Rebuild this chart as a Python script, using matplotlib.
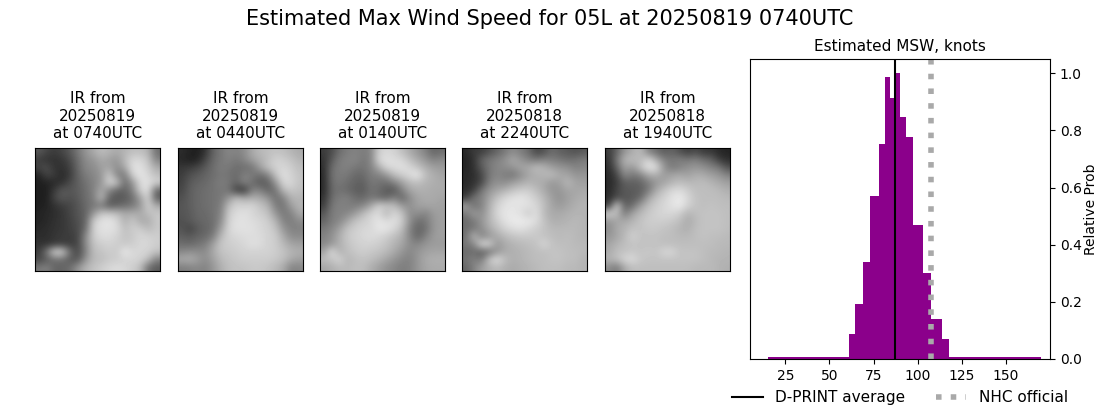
import numpy as np
import matplotlib
matplotlib.use('Agg')
import matplotlib.pyplot as plt

# histogram of estimated wind speed, uneven bins
bin_edges = [15.4, 61.2, 64.6, 69.1, 73.1, 78.2, 81.6, 84.4, 86.7, 89.9,
             93.4, 97.4, 103.0, 107.6, 113.8, 117.8, 169.8]
rel_prob = [0.008, 0.089, 0.193, 0.34, 0.571, 0.753, 0.987, 0.914, 1.0,
            0.847, 0.777, 0.47, 0.302, 0.141, 0.071, 0.008]
dprint_avg = 87.2
nhc_official = 107.6

ir_titles = ['IR from\n20250819\nat 0740UTC', 'IR from\n20250819\nat 0440UTC',
             'IR from\n20250819\nat 0140UTC', 'IR from\n20250818\nat 2240UTC',
             'IR from\n20250818\nat 1940UTC']

# coarse grey levels
ir_0740 = [[90, 70, 60, 70, 90, 120, 150, 170, 190, 180, 170, 180, 190, 190, 180, 110],
           [60, 50, 50, 55, 75, 110, 140, 150, 170, 160, 150, 185, 215, 215, 195, 130],
           [70, 80, 50, 50, 65, 105, 135, 140, 160, 165, 140, 170, 225, 225, 205, 170],
           [35, 70, 60, 40, 60, 100, 125, 135, 150, 205, 130, 120, 210, 230, 215, 190],
           [30, 35, 40, 50, 75, 95, 115, 130, 150, 215, 200, 105, 150, 220, 225, 210],
           [30, 30, 60, 90, 85, 95, 110, 130, 170, 135, 100, 100, 130, 210, 225, 100],
           [30, 30, 70, 90, 80, 90, 110, 125, 190, 100, 85, 90, 110, 160, 215, 90],
           [30, 35, 50, 60, 70, 85, 105, 120, 120, 90, 100, 110, 120, 150, 210, 170],
           [35, 40, 45, 55, 70, 85, 100, 150, 200, 200, 190, 170, 175, 170, 190, 200],
           [35, 40, 50, 55, 65, 80, 100, 205, 225, 230, 215, 175, 200, 170, 170, 200],
           [40, 45, 50, 55, 65, 75, 110, 210, 225, 225, 220, 190, 205, 205, 185, 200],
           [45, 45, 55, 60, 60, 70, 140, 205, 220, 220, 210, 195, 200, 215, 210, 205],
           [50, 50, 55, 60, 60, 70, 140, 195, 205, 210, 205, 200, 205, 215, 215, 205],
           [60, 120, 220, 215, 110, 70, 130, 190, 195, 205, 200, 235, 215, 215, 210, 195],
           [70, 90, 110, 110, 90, 85, 150, 185, 190, 200, 205, 210, 215, 210, 190, 130],
           [120, 130, 100, 100, 110, 150, 180, 195, 205, 215, 220, 215, 205, 190, 110, 90]]
ir_0440 = [[45, 35, 30, 50, 100, 120, 135, 130, 140, 170, 185, 190, 195, 190, 180, 170],
           [40, 30, 35, 70, 105, 120, 130, 120, 135, 160, 175, 190, 210, 205, 195, 180],
           [55, 60, 70, 90, 110, 125, 120, 110, 110, 115, 160, 195, 210, 215, 205, 190],
           [60, 80, 90, 100, 110, 120, 115, 105, 130, 125, 110, 130, 195, 225, 210, 195],
           [65, 90, 100, 105, 115, 125, 120, 100, 135, 110, 90, 95, 150, 215, 215, 195],
           [70, 95, 105, 110, 115, 120, 115, 60, 50, 130, 130, 100, 115, 185, 200, 190],
           [80, 95, 105, 110, 115, 120, 150, 190, 170, 175, 170, 150, 110, 130, 180, 180],
           [85, 95, 105, 110, 115, 125, 190, 210, 210, 215, 195, 180, 125, 115, 160, 180],
           [85, 90, 105, 105, 115, 130, 205, 220, 225, 215, 205, 195, 150, 120, 130, 170],
           [80, 90, 100, 105, 110, 140, 210, 225, 225, 220, 215, 205, 180, 130, 125, 140],
           [85, 65, 90, 100, 110, 160, 215, 225, 225, 225, 215, 210, 195, 150, 130, 130],
           [95, 90, 100, 105, 125, 185, 210, 215, 220, 220, 220, 210, 205, 170, 140, 140],
           [110, 105, 115, 125, 160, 200, 205, 210, 215, 225, 220, 210, 205, 185, 165, 160],
           [135, 145, 140, 140, 170, 195, 200, 205, 210, 210, 210, 210, 205, 195, 180, 175],
           [170, 175, 160, 140, 160, 185, 195, 200, 205, 205, 205, 205, 200, 190, 170, 160],
           [125, 130, 135, 130, 150, 175, 190, 195, 195, 200, 200, 195, 185, 170, 130, 135]]
ir_0140 = [[60, 75, 110, 125, 130, 125, 130, 205, 215, 210, 190, 170, 150, 130, 100, 110],
           [50, 90, 125, 130, 135, 120, 130, 215, 225, 220, 215, 190, 170, 150, 130, 140],
           [45, 110, 125, 130, 120, 115, 130, 170, 215, 220, 225, 215, 195, 175, 160, 155],
           [40, 115, 125, 120, 105, 105, 125, 130, 150, 190, 205, 220, 235, 190, 175, 165],
           [40, 110, 120, 110, 100, 95, 120, 115, 110, 130, 160, 185, 190, 180, 175, 170],
           [40, 105, 115, 105, 95, 90, 115, 110, 90, 85, 130, 165, 175, 175, 170, 170],
           [50, 110, 125, 130, 110, 105, 120, 110, 100, 130, 100, 140, 165, 170, 170, 165],
           [60, 120, 130, 125, 125, 135, 165, 210, 200, 190, 155, 145, 160, 165, 165, 160],
           [85, 125, 130, 135, 155, 185, 210, 220, 180, 215, 195, 140, 145, 130, 155, 160],
           [100, 125, 135, 165, 195, 205, 215, 230, 220, 225, 205, 145, 110, 120, 150, 160],
           [120, 135, 160, 195, 205, 215, 215, 230, 230, 215, 190, 130, 100, 110, 150, 160],
           [130, 145, 175, 200, 210, 215, 220, 215, 205, 190, 175, 135, 100, 130, 155, 160],
           [135, 150, 175, 195, 205, 210, 210, 205, 195, 180, 165, 140, 135, 150, 155, 155],
           [160, 225, 175, 190, 200, 205, 200, 195, 185, 170, 150, 135, 150, 160, 165, 165],
           [190, 195, 215, 180, 190, 195, 190, 180, 165, 150, 135, 130, 150, 170, 175, 175],
           [165, 175, 185, 185, 190, 190, 175, 160, 145, 135, 125, 130, 150, 165, 170, 170]]
ir_2240 = [[40, 60, 60, 80, 100, 120, 140, 125, 110, 70, 80, 110, 95, 90, 80, 90],
           [35, 50, 100, 120, 130, 145, 170, 150, 130, 120, 130, 125, 120, 110, 115, 125],
           [35, 50, 90, 120, 135, 140, 150, 165, 170, 190, 180, 160, 150, 145, 130, 135],
           [40, 45, 70, 120, 135, 125, 115, 140, 165, 175, 180, 190, 170, 165, 150, 150],
           [40, 50, 70, 130, 145, 140, 160, 170, 180, 175, 170, 150, 160, 185, 165, 160],
           [45, 60, 120, 150, 165, 180, 195, 205, 205, 190, 170, 150, 150, 165, 165, 170],
           [60, 120, 130, 165, 195, 215, 225, 230, 220, 205, 185, 160, 145, 160, 170, 175],
           [165, 110, 130, 175, 210, 225, 230, 225, 225, 215, 190, 165, 155, 165, 175, 180],
           [120, 160, 140, 180, 215, 230, 230, 225, 200, 225, 185, 170, 170, 175, 180, 180],
           [105, 120, 150, 180, 205, 225, 235, 235, 235, 220, 195, 175, 175, 180, 185, 180],
           [110, 120, 140, 170, 190, 210, 220, 225, 215, 205, 195, 185, 185, 185, 185, 180],
           [110, 190, 130, 150, 170, 185, 195, 200, 200, 200, 195, 190, 185, 190, 185, 180],
           [120, 130, 225, 215, 150, 170, 180, 185, 190, 195, 215, 195, 190, 190, 185, 185],
           [105, 110, 90, 110, 150, 170, 175, 180, 185, 190, 190, 195, 195, 190, 190, 185],
           [115, 130, 120, 200, 225, 190, 175, 180, 185, 190, 190, 195, 195, 190, 190, 180],
           [100, 130, 160, 175, 185, 175, 170, 175, 180, 185, 190, 190, 190, 185, 185, 180]]
ir_1940 = [[60, 100, 150, 170, 190, 130, 110, 90, 100, 80, 60, 75, 55, 55, 40, 35],
           [50, 120, 180, 190, 180, 215, 170, 130, 120, 130, 120, 130, 110, 100, 60, 45],
           [45, 100, 165, 150, 195, 230, 225, 150, 120, 130, 145, 150, 145, 130, 120, 80],
           [40, 70, 140, 120, 130, 170, 175, 155, 165, 170, 160, 175, 170, 160, 150, 130],
           [40, 60, 95, 95, 100, 125, 150, 165, 180, 190, 185, 185, 190, 180, 170, 160],
           [40, 70, 90, 90, 95, 120, 170, 195, 215, 220, 205, 190, 190, 190, 185, 175],
           [45, 75, 85, 90, 105, 165, 195, 210, 225, 235, 215, 195, 190, 190, 190, 185],
           [60, 215, 95, 110, 160, 190, 205, 215, 225, 235, 210, 195, 190, 195, 190, 190],
           [210, 190, 120, 165, 185, 200, 210, 215, 215, 205, 180, 190, 195, 195, 195, 190],
           [150, 165, 170, 180, 195, 205, 205, 205, 200, 190, 170, 185, 195, 195, 195, 190],
           [140, 170, 180, 195, 195, 200, 200, 195, 190, 180, 175, 190, 195, 195, 195, 190],
           [150, 165, 185, 210, 195, 195, 195, 190, 190, 185, 185, 190, 195, 190, 190, 185],
           [165, 180, 190, 195, 195, 195, 195, 190, 190, 190, 190, 190, 190, 190, 185, 185],
           [170, 190, 195, 200, 195, 200, 195, 215, 215, 195, 195, 195, 190, 185, 185, 180],
           [180, 190, 215, 220, 200, 195, 195, 195, 195, 195, 195, 195, 190, 185, 180, 180],
           [140, 120, 170, 190, 190, 190, 190, 190, 190, 190, 190, 185, 185, 185, 180, 175]]
ir_panels = [ir_0740, ir_0440, ir_0140, ir_2240, ir_1940]

W, H = 1100, 409
panel_left = [35, 178, 320, 462, 605]

fig = plt.figure(figsize=(W / 100, H / 100), dpi=100)
fig.suptitle('Estimated Max Wind Speed for 05L at 20250819 0740UTC', fontsize=15, y=0.977)

# satellite panels
for i in range(5):
    ax = fig.add_axes([panel_left[i] / W, (H - 271) / H, 125 / W, 123 / H])
    ax.imshow(ir_panels[i], cmap='gray', vmin=0, vmax=255, interpolation='bicubic', aspect='auto')
    ax.set_xticks([])
    ax.set_yticks([])
    ax.set_title(ir_titles[i], fontsize=11, pad=7.2)

# wind speed histogram
ax = fig.add_axes([750 / W, (H - 359) / H, 300 / W, 300 / H])
ax.stairs(rel_prob, bin_edges, fill=True, color='darkmagenta')
ax.axvline(dprint_avg, color='k', lw=1.5, label='D-PRINT average')
ax.axvline(nhc_official, color='darkgray', lw=4, ls=':', label='NHC official')
ax.set_xlim(5.0, 175.0)
ax.set_ylim(0, 1.05)
ax.yaxis.tick_right()
ax.yaxis.set_label_position('right')
ax.set_xticks([25, 50, 75, 100, 125, 150])
ax.set_ylabel('Relative Prob', fontsize=10, labelpad=1.5)
ax.set_title('Estimated MSW, knots', fontsize=11, pad=6)
ax.legend(loc='upper center', bbox_to_anchor=(0.5, -0.058), ncol=2, frameon=False,
          fontsize=11, columnspacing=2.0)

plt.savefig('out.png', dpi=100)
